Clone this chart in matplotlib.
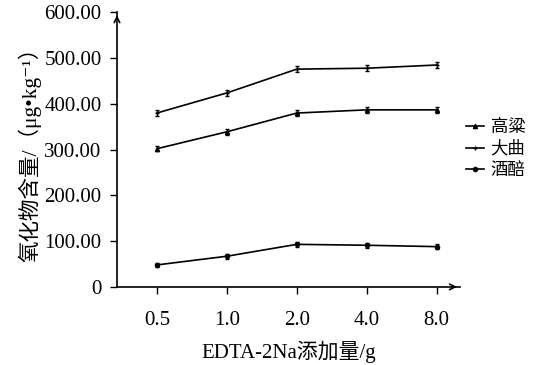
import numpy as np
import matplotlib.pyplot as plt
from matplotlib.ticker import FuncFormatter
from matplotlib.lines import Line2D

plt.rcParams['font.family'] = ['Liberation Serif', 'Noto Sans CJK SC', 'DejaVu Sans']

# x categories (EDTA-2Na dosage, g)
doses = ['0.5', '1.0', '2.0', '4.0', '8.0']
# chloride content, µg/kg
gaoliang = [302, 339, 380, 387, 387]
daqu = [380, 424, 476, 478, 485]
jiupei = [48, 67, 93, 91, 88]
err_gaoliang = [6, 6, 6, 6, 6]
err_daqu = [6, 6, 6, 6, 6]
err_jiupei = [5, 5, 5, 5, 5]
names = ['高粱', '大曲', '酒醅']

fig = plt.figure(figsize=(5.39, 3.65), dpi=100)
ax = fig.add_axes([0.217, 0.214, 0.636, 0.752])

x = np.arange(len(doses))
markers = ['^', '+', 'o']
series = [(gaoliang, err_gaoliang), (daqu, err_daqu), (jiupei, err_jiupei)]
for (vals, err), mk in zip(series, markers):
    ax.errorbar(x, vals, yerr=err, color='black', lw=1.2, marker=mk, ms=3,
                mew=1, capsize=1.5, elinewidth=1)

ax.set_xlim(-0.57, 4.33)
ax.set_ylim(0, 600)
ax.set_xticks(x)
ax.set_xticklabels(doses)
ax.set_yticks(np.arange(0, 601, 100))
ax.yaxis.set_major_formatter(FuncFormatter(lambda v, p: '0' if v == 0 else '%.2f' % v))
ax.tick_params(labelsize=15, direction='out', length=5, width=1)
ax.tick_params(axis='x', pad=12)
ax.tick_params(axis='y', pad=6)

for s in ['top', 'right']:
    ax.spines[s].set_visible(False)
for s in ['left', 'bottom']:
    ax.spines[s].set_linewidth(1.2)

# axis arrows
ax.annotate('', xy=(1.0, 0), xytext=(0.97, 0), xycoords='axes fraction',
            arrowprops=dict(arrowstyle='->', lw=1.2, color='black'))
ax.annotate('', xy=(0, 1.0), xytext=(0, 0.97), xycoords='axes fraction',
            arrowprops=dict(arrowstyle='->', lw=1.2, color='black'))

ax.set_xlabel('EDTA-2Na添加量/g', fontsize=15, labelpad=8)
ax.set_ylabel('氧化物含量/（μg•kg⁻¹）', fontsize=15.5, labelpad=2)

handles = [Line2D([], [], color='black', lw=1.2, marker=mk, ms=3) for mk in markers]
fig.legend(handles, names, loc='upper left', bbox_to_anchor=(0.865, 0.672),
           frameon=False, fontsize=12.5, handlelength=1.0, handletextpad=0.4,
           labelspacing=0.3, borderaxespad=0, borderpad=0)

fig.savefig('out.png', dpi=100)
